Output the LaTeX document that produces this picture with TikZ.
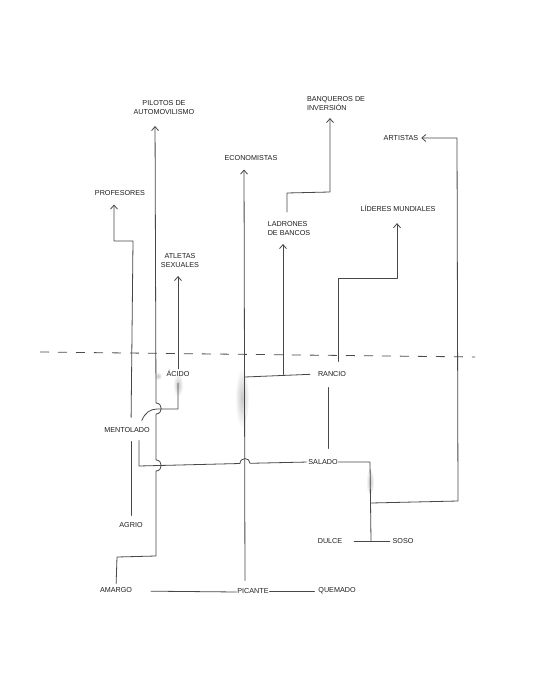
\documentclass[tikz,border=0pt]{standalone}
\usepackage{fontspec}
\setmainfont{Liberation Sans}
\usetikzlibrary{arrows.meta}
\begin{document}
\begin{tikzpicture}[x=1pt,y=-1pt,
  ink/.style={draw=black!72, line width=0.8pt, line cap=round, line join=round},
  arr/.style={ink, -{Straight Barb[length=4pt,width=7pt]}},
  lbl/.style={font=\fontsize{7.2}{9}\selectfont, text=black!88, inner sep=0pt, outer sep=0pt, align=center},
  smudge/.style={inner color=black!22, outer color=white},
]
\useasboundingbox (0,0) rectangle (533,700);
\fill[white] (0,0) rectangle (533,700);

% erasure smudges
\shade[smudge] (178,385) ellipse (5pt and 12pt);
\shade[smudge] (242,398) ellipse (7pt and 30pt);
\shade[smudge] (370,482) ellipse (4pt and 14pt);
\shade[smudge] (158,376) ellipse (4pt and 4pt);

% labels
\node[lbl] (pil) at (164,108) {PILOTOS DE\\AUTOMOVILISMO};
\node[lbl] (prof) at (120,193) {PROFESORES};
\node[lbl] (econ) at (251,158) {ECONOMISTAS};
\node[lbl, align=left] (banq) at (336,104) {BANQUEROS DE\\INVERSIÓN};
\node[lbl] (art) at (401,138) {ARTISTAS};
\node[lbl, align=left] (ladr) at (289,229) {LADRONES\\DE BANCOS};
\node[lbl] (lid) at (398,208) {LÍDERES MUNDIALES};
\node[lbl] (atl) at (180,261) {ATLETAS\\SEXUALES};
\node[lbl] (acid) at (178,373) {ÁCIDO};
\node[lbl] (ran) at (332,374) {RANCIO};
\node[lbl] (ment) at (127,430) {MENTOLADO};
\node[lbl] (sal) at (323,462) {SALADO};
\node[lbl] (agr) at (131,525) {AGRIO};
\node[lbl] (dul) at (330,541) {DULCE};
\node[lbl] (soso) at (403,541) {SOSO};
\node[lbl] (amar) at (116,590) {AMARGO};
\node[lbl] (pic) at (253,591) {PICANTE};
\node[lbl] (quem) at (337,591) {QUEMADO};

% dashed divider
\draw[black!70, line width=0.8pt, dash pattern=on 9pt off 9pt] (40,352) -- (475,357);

% junction points
\coordinate (jEcon) at (245,377);
\coordinate (jLadr) at (283,374.5);
\coordinate (jArt) at (371,503);

% AGRIO -> PROFESORES (interrupted by MENTOLADO)
\draw[ink, shorten <=7pt, shorten >=9pt] (agr.north) -- (agr.north |- ment.south);
\draw[arr, shorten <=10pt, shorten >=9pt] (agr.north |- ment.north) -- (133,241) -- (114,241) -- (114,0 |- prof.south);

% AMARGO -> PILOTOS DE AUTOMOVILISMO (with hops)
\draw[arr, shorten <=4pt, shorten >=11pt] (amar.north) -- (117,557) -- (156,556) -- (156,471)
  .. controls (163,471) and (163,460) .. (156,460) -- (156,414)
  .. controls (163,414) and (163,403) .. (156,403) -- (155,0 |- pil.south);

% ACIDO -> ATLETAS SEXUALES
\draw[arr, shorten <=1pt, shorten >=8pt] (acid.north) -- (acid.north |- atl.south);

% ACIDO -> MENTOLADO
\draw[ink, shorten <=7pt] (acid.south) -- (178,409) -- (157,409)
  .. controls (150,409) and (145,413) .. ([xshift=-8pt,yshift=7pt]ment.north east);

% MENTOLADO -> SALADO (hop over the PICANTE line)
\draw[ink, shorten <=8pt, shorten >=2pt] ([xshift=12pt]ment.south) -- (139,466) -- (240,463.5)
  .. controls (240,457) and (250,457) .. (250,463.3) -- (sal.west);

% PICANTE -> ECONOMISTAS
\draw[arr, shorten <=8pt, shorten >=9pt] ([xshift=-8pt]pic.north) -- ([xshift=-7pt]econ.south);

% RANCIO -> junction on PICANTE line, branch to LADRONES
\draw[ink, shorten <=8pt] (ran.west) -- (jEcon);
\draw[arr, shorten >=8pt] (jLadr) -- (jLadr |- ladr.south);

% LADRONES DE BANCOS -> BANQUEROS DE INVERSION
\draw[arr, shorten <=10pt, shorten >=7pt] ([xshift=-2pt]ladr.north) -- (287,193) -- (330,192) -- (330,0 |- banq.south);

% RANCIO -> LIDERES MUNDIALES
\draw[arr, shorten <=10pt, shorten >=12pt] ([xshift=6pt]ran.north) -- (338,278) -- (397,278) -- (397,0 |- lid.south);

% RANCIO -- SALADO
\draw[ink, shorten <=11pt, shorten >=11pt] ([xshift=-4pt]ran.south) -- ([xshift=5pt]sal.north);

% SALADO -> down to DULCE/SOSO
\draw[ink, shorten <=1pt] (sal.east) -- (370,462) -- (371,541);
\draw[ink, shorten <=12pt, shorten >=3pt] (dul.east) -- (soso.west);

% branch -> ARTISTAS
\draw[arr, shorten >=3pt] (jArt) -- (458,501) -- (457,138) -- (art.east);

% bottom line AMARGO - PICANTE - QUEMADO
\draw[ink, shorten <=19pt, shorten >=1pt] ([yshift=-1pt]amar.east) -- ([yshift=-1pt]pic.west);
\draw[ink, shorten <=1pt, shorten >=4pt] (pic.east) -- (quem.west);
\end{tikzpicture}
\end{document}
